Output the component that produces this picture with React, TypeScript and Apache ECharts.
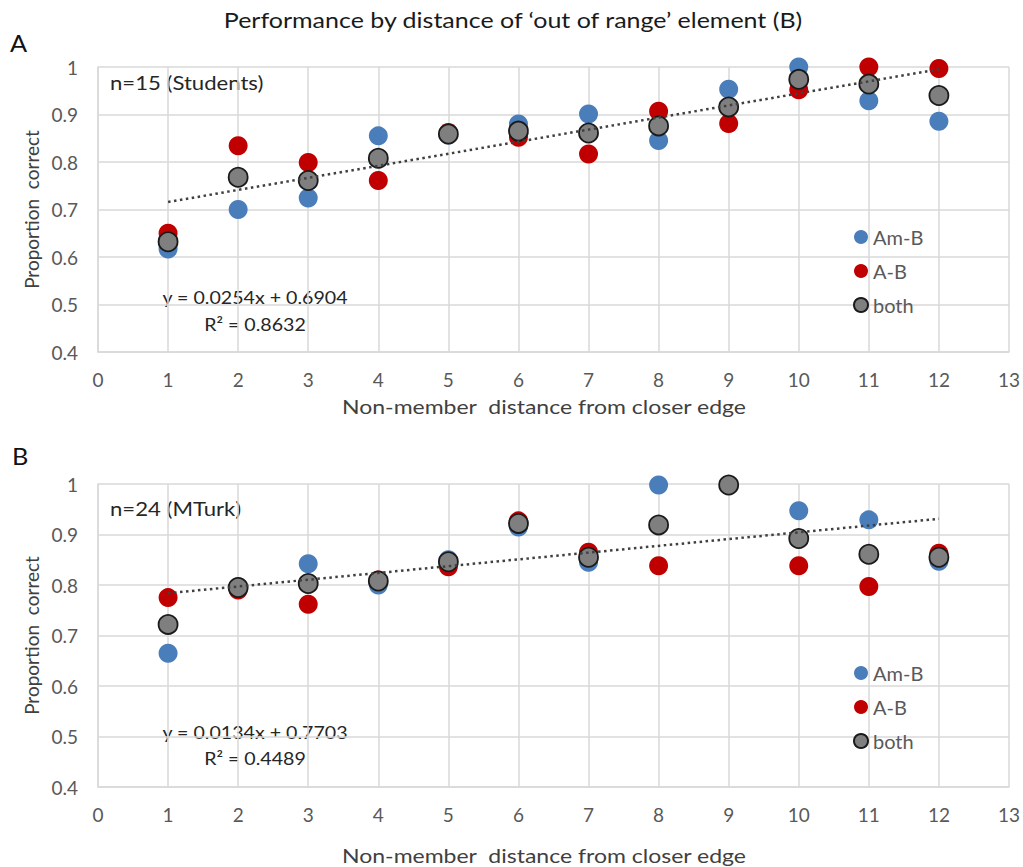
import React, { useEffect, useRef } from "react";
import * as echarts from "echarts";

const xTicks = [0, 1, 2, 3, 4, 5, 6, 7, 8, 9, 10, 11, 12, 13];
const distances = [1, 2, 3, 4, 5, 6, 7, 8, 9, 10, 11, 12];

// Panel A (Students)
const amB_A = [0.617, 0.70, 0.724, 0.855, 0.857, 0.88, 0.901, 0.845, 0.953, 1.0, 0.929, 0.886];
const aB_A = [0.65, 0.834, 0.799, 0.761, 0.862, 0.852, 0.817, 0.907, 0.881, 0.952, 1.0, 0.997];
const both_A = [0.632, 0.768, 0.761, 0.808, 0.859, 0.865, 0.861, 0.876, 0.916, 0.974, 0.964, 0.94];
const trend_A = [[1, 0.7158], [12, 0.9952]];

// Panel B (MTurk)
const amB_B = [0.665, 0.797, 0.842, 0.80, 0.85, 0.915, 0.845, 0.998, 0.998, 0.947, 0.929, 0.847];
const aB_B = [0.775, 0.79, 0.762, 0.81, 0.836, 0.927, 0.865, 0.838, 0.998, 0.838, 0.797, 0.863];
const both_B = [0.722, 0.795, 0.803, 0.808, 0.846, 0.922, 0.855, 0.919, 0.998, 0.892, 0.861, 0.855];
const trend_B = [[1, 0.7837], [12, 0.9311]];

const yMin = 0.4;
const yMax = 1;
const yStep = 0.1;

const FONT = "Lato";
const BLUE = "#4a7ebb";
const RED = "#c00000";
const GRAY = "#7f7f7f";
const GRID = "#d9d9d9";

const pts = (vals: number[]) => vals.map((v, i) => [distances[i], v]);

export default function App() {
  const ref = useRef<HTMLDivElement>(null);
  useEffect(() => {
    if (!ref.current) return;
    const chart = echarts.init(ref.current, undefined, { renderer: "svg" });
    const xAxisBase = (gridIndex: number) => ({
      type: "value",
      gridIndex,
      min: xTicks[0],
      max: xTicks[xTicks.length - 1],
      interval: 1,
      axisLine: { show: true, lineStyle: { color: GRID, width: 1.5 } },
      axisTick: { show: false },
      axisLabel: { fontFamily: FONT, fontSize: 19, color: "#595959", margin: 18 },
      splitLine: { show: true, lineStyle: { color: GRID, width: 1.5 } },
    });
    const yAxisBase = (gridIndex: number) => ({
      type: "value",
      gridIndex,
      min: yMin,
      max: yMax,
      interval: yStep,
      name: "Proportion  correct",
      nameLocation: "middle",
      nameGap: 56,
      nameTextStyle: { fontFamily: FONT, fontSize: 19, color: "#404040" },
      axisLine: { show: true, lineStyle: { color: GRID, width: 1.5 } },
      axisTick: { show: false },
      axisLabel: {
        fontFamily: FONT,
        fontSize: 19,
        color: "#595959",
        margin: 20,
        formatter: (v: number) => (Math.abs(v - 1) < 1e-9 ? "1" : v.toFixed(1)),
      },
      splitLine: { show: true, lineStyle: { color: GRID, width: 1.5 } },
    });
    const scatter = (name: string, data: number[], idx: number, color: string, border?: boolean) => ({
      name,
      type: "scatter",
      xAxisIndex: idx,
      yAxisIndex: idx,
      data: pts(data),
      symbol: "circle",
      symbolSize: 19,
      itemStyle: border
        ? { color, borderColor: "#1a1a1a", borderWidth: 1.8, opacity: 1 }
        : { color, opacity: 1 },
    });
    const trend = (data: number[][], idx: number) => ({
      type: "line",
      xAxisIndex: idx,
      yAxisIndex: idx,
      data,
      showSymbol: false,
      symbol: "none",
      silent: true,
      lineStyle: { color: "#404040", width: 2.5, type: [2.5, 3.5] },
      z: 5,
    });
    const legendBase = (top: number) => ({
      data: ["Am-B", "A-B", "both"],
      orient: "vertical",
      left: 848,
      top,
      icon: "circle",
      itemWidth: 14,
      itemHeight: 14,
      itemGap: 14,
      textStyle: { fontFamily: FONT, fontSize: 20, color: "#595959", lineHeight: 20 },
    });
    const txt = (
      text: string,
      x: number,
      y: number,
      size: number,
      align = "left",
      sx = 1,
      color = "#262626"
    ) => ({
      type: "text",
      x,
      y,
      scaleX: sx,
      style: {
        text,
        x: 0,
        y: 0,
        fill: color,
        font: `${size}px ${FONT}`,
        textAlign: align,
        textVerticalAlign: "middle",
      },
    });
    const xName = "Non-member  distance from closer edge";
    chart.setOption({
      animation: false,
      backgroundColor: "#ffffff",
      grid: [
        { left: 98, top: 67, width: 912, height: 285 },
        { left: 98, top: 484, width: 912, height: 303 },
      ],
      xAxis: [xAxisBase(0), xAxisBase(1)],
      yAxis: [yAxisBase(0), yAxisBase(1)],
      legend: [legendBase(222), legendBase(658)],
      series: [
        scatter("Am-B", amB_A, 0, BLUE),
        scatter("A-B", aB_A, 0, RED),
        scatter("both", both_A, 0, GRAY, true),
        trend(trend_A, 0),
        scatter("Am-B", amB_B, 1, BLUE),
        scatter("A-B", aB_B, 1, RED),
        scatter("both", both_B, 1, GRAY, true),
        trend(trend_B, 1),
      ],
      graphic: [
        txt("Performance by distance of \u2018out of range\u2019 element (B)", 513, 20, 21, "center", 1.19, "#1a1a1a"),
        txt("A", 10, 43, 23, "left", 1.1, "#111"),
        txt("B", 12, 456, 23, "left", 1.1, "#111"),
        txt(xName, 544, 407, 19.5, "center", 1.18, "#404040"),
        txt(xName, 544, 856, 19.5, "center", 1.18, "#404040"),
        txt("n=15 (Students)", 110, 83, 19, "left", 1.165),
        txt("y = 0.0254x + 0.6904", 255, 297, 18, "center", 1.09),
        txt("R\u00b2 = 0.8632", 255, 324, 18, "center", 1.09),
        txt("n=24 (MTurk)", 110, 509, 19, "left", 1.165),
        txt("y = 0.0134x + 0.7703", 255, 732, 18, "center", 1.09),
        txt("R\u00b2 = 0.4489", 255, 758, 18, "center", 1.09),
      ],
    });
    return () => chart.dispose();
  }, []);
  return (
    <div
      ref={ref}
      style={{ position: "fixed", left: 0, top: 0, width: 1023, height: 867, background: "#fff" }}
    />
  );
}
